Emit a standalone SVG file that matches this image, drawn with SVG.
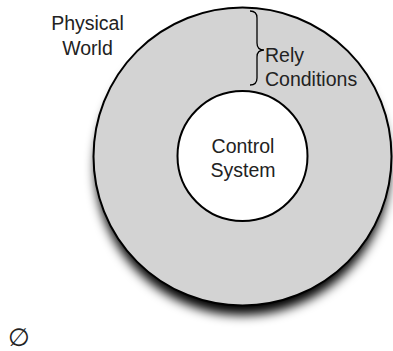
<svg xmlns="http://www.w3.org/2000/svg" width="393" height="351" viewBox="0 0 393 351">
  <style>
    .lbl { font-family: "Liberation Sans", Arial, sans-serif; font-size: 19.5px; fill: #222; }
    .ring { stroke: #000; stroke-width: 2; }
  </style>
  <defs>
    <filter id="shadow" x="-20%" y="-20%" width="140%" height="150%">
      <feGaussianBlur stdDeviation="5.5"/>
    </filter>
  </defs>
  <rect width="393" height="351" fill="#fff"/>
  <g id="physical-world">
    <circle cx="242.5" cy="168" r="147" fill="#000" filter="url(#shadow)"/>
    <rect x="0" y="0" width="143" height="62" fill="#fff"/>
    <circle class="ring" cx="242.5" cy="156.5" r="149" fill="#d3d3d3"/>
    <text class="lbl" text-anchor="middle"><tspan x="87.5" y="29.5">Physical</tspan><tspan x="87.5" y="55">World</tspan></text>
  </g>
  <g id="rely-conditions">
    <path d="M250,11 Q257,11 257,18 L257,43 Q257,50 264,50 Q257,50 257,57 L257,78 Q257,85 250,85" fill="none" stroke="#000" stroke-width="1.3"/>
    <text class="lbl"><tspan x="265" y="61.5">Rely</tspan><tspan x="265" y="85.5">Conditions</tspan></text>
  </g>
  <g id="control-system">
    <circle class="ring" cx="242.5" cy="156" r="65" fill="#fff"/>
    <text class="lbl" text-anchor="middle"><tspan x="243" y="152.5">Control</tspan><tspan x="243" y="177">System</tspan></text>
  </g>
  <g id="connectors"/>
  <text x="19" y="346" text-anchor="middle" style="font-family: 'DejaVu Sans', sans-serif; font-size: 25px; fill: #222;">∅</text>
</svg>
